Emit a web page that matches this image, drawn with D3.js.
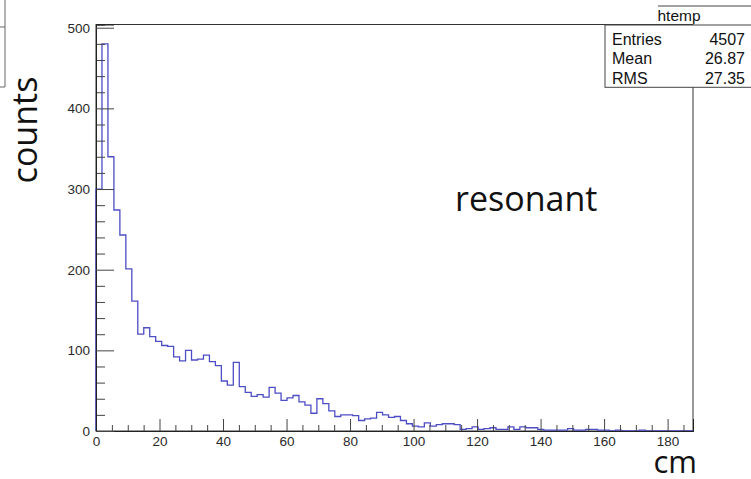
<!DOCTYPE html>
<html>
<head>
<meta charset="utf-8">
<script src="https://cdn.jsdelivr.net/npm/d3@7"></script>
<style>
  html, body { margin: 0; padding: 0; background: #fff; }
  svg { display: block; }
</style>
</head>
<body>
<svg id="chart" width="751" height="479"></svg>
<script>
// ---- data ----
const histName = "htemp";
const xLow = 0, xHigh = 188, nBins = 100;
const counts = [
  300, 480, 340, 274, 243, 201, 161, 120, 128, 117,
  111, 106, 105, 92, 87, 100, 88, 89, 94, 86,
  81, 62, 57, 85, 55, 48, 43, 45, 42, 54,
  47, 38, 41, 44, 36, 32, 22, 40, 34, 25,
  18, 20, 20, 19, 13, 15, 16, 23, 20, 17,
  18, 13, 9, 6, 5, 10, 6, 8, 9, 9,
  8, 2, 3, 5, 2, 3, 4, 2, 2, 5,
  2, 5, 4, 4, 2, 1, 1, 1, 1, 3,
  1, 1, 2, 2, 1, 1, 0, 1, 0, 0,
  0, 1, 0, 0, 0, 0, 0, 0, 0, 0
];
const xMajorTicks = [0, 20, 40, 60, 80, 100, 120, 140, 160, 180];
const yMajorTicks = [0, 100, 200, 300, 400, 500];
const statLabels = ["Entries", "Mean", "RMS"];
const statValues = ["4507", "26.87", "27.35"];
const yTitle = "counts";
const xTitle = "cm";
const annotation = "resonant";

// ---- layout ----
const svg = d3.select("#chart");
const frame = { left: 96, right: 693, top: 24.5, bottom: 431 };
const yMax = d3.max(counts) * 1.05;

const x = d3.scaleLinear().domain([xLow, xHigh]).range([frame.left, frame.right]);
const y = d3.scaleLinear().domain([0, yMax]).range([frame.bottom, frame.top]);

const binW = (xHigh - xLow) / nBins;
const tickFont = "'Liberation Sans', Arial, Helvetica, sans-serif";
const titleFont = "'Open Sans', 'Noto Sans', sans-serif";

// frame
svg.append("rect")
  .attr("x", frame.left).attr("y", frame.top)
  .attr("width", frame.right - frame.left).attr("height", frame.bottom - frame.top)
  .attr("fill", "none").attr("stroke", "#333").attr("stroke-width", 1);

// histogram step line
const pts = [];
pts.push([xLow, 0]);
counts.forEach((c, i) => {
  const e0 = xLow + i * binW, e1 = xLow + (i + 1) * binW;
  pts.push([e0, c]);
  pts.push([e1, c]);
});
pts.push([xHigh, 0]);
const line = d3.line().x(d => x(d[0])).y(d => y(d[1]));
svg.append("path")
  .attr("d", line(pts))
  .attr("fill", "none")
  .attr("stroke", "#4d4dc6")
  .attr("stroke-width", 1.3);

// x axis: ROOT-style inward ticks
const xMinorTicks = d3.range(0, xHigh + 0.001, 5).filter(v => v % 20 !== 0);
const xAxisMinor = d3.axisBottom(x).tickValues(xMinorTicks).tickSize(-6).tickFormat("");
const xAxisMajor = d3.axisBottom(x).tickValues(xMajorTicks).tickSize(-12).tickPadding(5).tickFormat(d3.format("d"));

const gxm = svg.append("g").attr("transform", `translate(0,${frame.bottom})`).call(xAxisMinor);
const gx = svg.append("g").attr("transform", `translate(0,${frame.bottom})`).call(xAxisMajor);
[gxm, gx].forEach(g => {
  g.select(".domain").attr("stroke", "#222");
  g.selectAll(".tick line").attr("stroke", "#444");
});
gx.selectAll(".tick text")
  .attr("font-family", tickFont).attr("font-size", 13.5).attr("fill", "#2a2a2a")
  .attr("y", 5).attr("dy", "0.75em");

// y axis
const yMinorTicks = d3.range(0, yMax, 20).filter(v => v % 100 !== 0);
const yAxisMinor = d3.axisLeft(y).tickValues(yMinorTicks).tickSize(-9).tickFormat("");
const yAxisMajor = d3.axisLeft(y).tickValues(yMajorTicks).tickSize(-18).tickPadding(6).tickFormat(d3.format("d"));
const gym = svg.append("g").attr("transform", `translate(${frame.left},0)`).call(yAxisMinor);
const gy = svg.append("g").attr("transform", `translate(${frame.left},0)`).call(yAxisMajor);
[gym, gy].forEach(g => {
  g.select(".domain").attr("stroke", "#222");
  g.selectAll(".tick line").attr("stroke", "#444");
});
gy.selectAll(".tick text")
  .attr("font-family", tickFont).attr("font-size", 13.5).attr("fill", "#2a2a2a")
  .attr("x", -6);

// stats box
const sb = { left: 605, right: 760, top: 25, bottom: 87.3 };
svg.append("rect")
  .attr("x", sb.left).attr("y", sb.top)
  .attr("width", sb.right - sb.left).attr("height", sb.bottom - sb.top)
  .attr("fill", "#fff").attr("stroke", "#444").attr("stroke-width", 1);
svg.append("line")
  .attr("x1", 658).attr("x2", 760).attr("y1", 6).attr("y2", 6)
  .attr("stroke", "#444").attr("stroke-width", 1);
svg.append("text")
  .attr("x", 679).attr("y", 21).attr("text-anchor", "middle")
  .attr("font-family", tickFont).attr("font-size", 15.5).attr("fill", "#111")
  .text(histName);
statLabels.forEach((lab, i) => {
  const by = 44.5 + i * 19.5;
  svg.append("text").attr("x", 612).attr("y", by)
    .attr("font-family", tickFont).attr("font-size", 16).attr("fill", "#111").text(lab);
  svg.append("text").attr("x", 745).attr("y", by).attr("text-anchor", "end")
    .attr("font-family", tickFont).attr("font-size", 16).attr("fill", "#111").text(statValues[i]);
});

// partial box at top-left (neighbouring pave)
svg.append("path")
  .attr("d", "M-2,27 H5 V0 M5,27 V87 H-2")
  .attr("fill", "none").attr("stroke", "#666").attr("stroke-width", 1);

// titles
svg.append("text")
  .attr("transform", "translate(37,130) rotate(-90)")
  .attr("text-anchor", "middle")
  .attr("font-family", titleFont).attr("font-size", 34).attr("fill", "#111")
  .text(yTitle);
svg.append("text")
  .attr("x", 697).attr("y", 473).attr("text-anchor", "end")
  .attr("font-family", titleFont).attr("font-size", 31).attr("fill", "#111")
  .text(xTitle);
svg.append("text")
  .attr("x", 455).attr("y", 211)
  .attr("font-family", titleFont).attr("font-size", 34).attr("fill", "#111")
  .text(annotation);
</script>
</body>
</html>
